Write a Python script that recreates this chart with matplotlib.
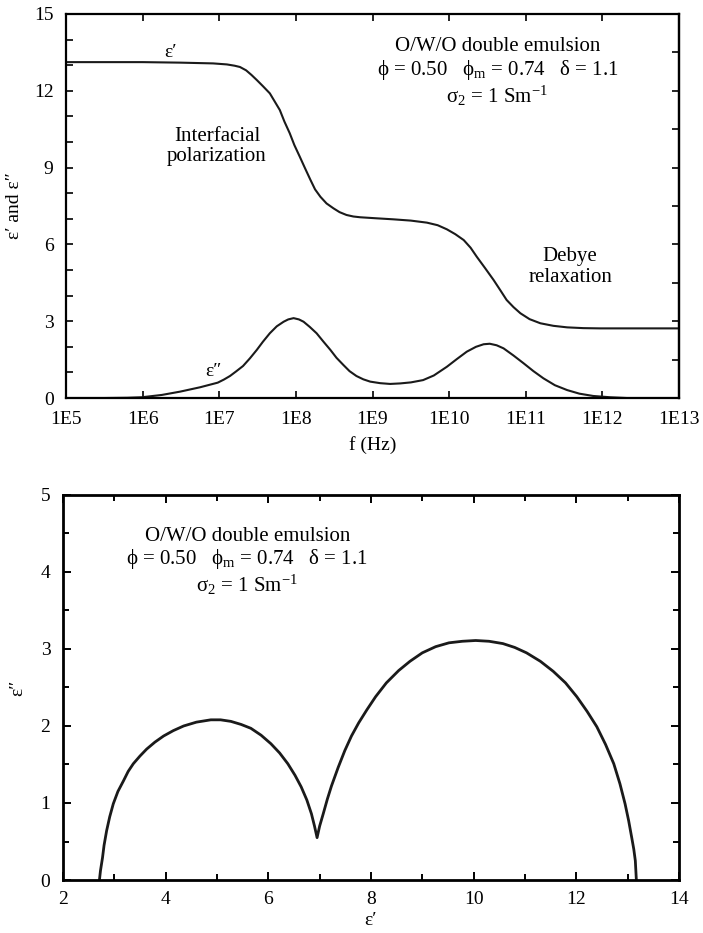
import numpy as np
import matplotlib
matplotlib.use("Agg")
import matplotlib.pyplot as plt
from matplotlib.ticker import MultipleLocator

plt.rcParams['font.family'] = ['Liberation Serif', 'DejaVu Serif']
plt.rcParams['mathtext.fontset'] = 'custom'
plt.rcParams['mathtext.rm'] = 'Liberation Serif'
plt.rcParams['mathtext.it'] = 'Liberation Serif:italic'

# top panel: eps' and eps'' vs log10(f)
logf_eps1 = [5.0, 6.0, 6.49, 6.92, 7.1, 7.2, 7.27, 7.35, 7.42, 7.49, 7.57, 7.66, 7.72,
             7.79, 7.85, 7.92, 7.98, 8.05, 8.12, 8.19, 8.25, 8.32, 8.40, 8.49, 8.57,
             8.66, 8.75, 8.84, 9.05, 9.27, 9.5, 9.71, 9.85, 9.97, 10.08, 10.19, 10.28,
             10.36, 10.47, 10.58, 10.67, 10.75, 10.84, 10.93, 11.05, 11.19, 11.36,
             11.54, 11.75, 11.97, 12.5, 13.0]
eps1 = [13.12, 13.12, 13.10, 13.07, 13.03, 12.98, 12.93, 12.80, 12.62, 12.42, 12.18,
        11.90, 11.60, 11.25, 10.80, 10.34, 9.88, 9.43, 8.97, 8.52, 8.15, 7.86, 7.60,
        7.41, 7.26, 7.15, 7.09, 7.06, 7.02, 6.98, 6.93, 6.85, 6.75, 6.59, 6.40, 6.17,
        5.87, 5.52, 5.07, 4.61, 4.20, 3.83, 3.55, 3.31, 3.08, 2.92, 2.82, 2.76, 2.73,
        2.72, 2.72, 2.72]

logf_eps2 = [5.0, 5.5, 5.8, 5.99, 6.25, 6.49, 6.75, 6.98, 7.06, 7.14, 7.22, 7.31, 7.40,
             7.49, 7.57, 7.66, 7.75, 7.84, 7.90, 7.97, 8.04, 8.10, 8.18, 8.27, 8.36,
             8.45, 8.53, 8.62, 8.70, 8.79, 8.88, 8.97, 9.10, 9.23, 9.36, 9.50, 9.66,
             9.80, 9.97, 10.10, 10.23, 10.35, 10.45, 10.53, 10.62, 10.71, 10.84, 10.97,
             11.10, 11.23, 11.38, 11.54, 11.70, 11.88, 12.10, 12.32, 13.0]
eps2 = [0.0, 0.0, 0.01, 0.03, 0.12, 0.25, 0.42, 0.60, 0.72, 0.86, 1.04, 1.25, 1.55,
        1.88, 2.20, 2.53, 2.80, 2.98, 3.07, 3.12, 3.07, 2.98, 2.78, 2.53, 2.20,
        1.88, 1.57, 1.29, 1.05, 0.86, 0.73, 0.64, 0.58, 0.55, 0.57, 0.61, 0.70,
        0.88, 1.22, 1.52, 1.81, 2.00, 2.10, 2.12, 2.06, 1.94, 1.66, 1.36,
        1.05, 0.77, 0.50, 0.31, 0.17, 0.08, 0.03, 0.0, 0.0]

freq_ticks = [5, 6, 7, 8, 9, 10, 11, 12, 13]
freq_labels = ['1E5', '1E6', '1E7', '1E8', '1E9', '1E10', '1E11', '1E12', '1E13']

# bottom panel: Cole-Cole plot
cc_eps1 = [2.71, 2.73, 2.77, 2.80, 2.85, 2.91, 2.98, 3.07, 3.18, 3.27, 3.37, 3.50, 3.63,
           3.79, 3.96, 4.15, 4.35, 4.60, 4.88, 5.07, 5.27, 5.47, 5.66, 5.86, 6.05, 6.22,
           6.38, 6.52, 6.64, 6.75, 6.84, 6.90, 6.95, 7.00, 7.07, 7.15, 7.23, 7.36, 7.49,
           7.62, 7.76, 7.92, 8.09, 8.30, 8.54, 8.76, 9.00, 9.26, 9.52, 9.78, 10.04,
           10.30, 10.57, 10.80, 11.03, 11.30, 11.55, 11.79, 12.01, 12.21, 12.40, 12.57,
           12.73, 12.85, 12.95, 13.02, 13.08, 13.12, 13.15, 13.17]
cc_eps2 = [0.0, 0.12, 0.29, 0.45, 0.64, 0.82, 0.99, 1.15, 1.29, 1.41, 1.51, 1.61, 1.70,
           1.79, 1.87, 1.94, 2.00, 2.05, 2.08, 2.08, 2.06, 2.02, 1.97, 1.88, 1.77, 1.65,
           1.51, 1.36, 1.21, 1.04, 0.86, 0.70, 0.55, 0.70, 0.86, 1.05, 1.22, 1.46, 1.68,
           1.87, 2.04, 2.21, 2.38, 2.56, 2.72, 2.84, 2.95, 3.03, 3.08, 3.10, 3.11,
           3.10, 3.07, 3.02, 2.95, 2.84, 2.71, 2.56, 2.38, 2.19, 1.99, 1.76,
           1.51, 1.25, 0.99, 0.77, 0.55, 0.40, 0.25, 0.0]

info = 'O/W/O double emulsion\nϕ = 0.50   ϕ$_\\mathrm{m}$ = 0.74   δ = 1.1\nσ$_2$ = 1 Sm$^{-1}$'

fs = 14
fs_txt = 15
ink = '#1a1a1a'
fig = plt.figure(figsize=(7.03, 9.33), dpi=100)

# ---- top panel
ax1 = fig.add_axes([0.0939, 0.5734, 0.872, 0.4116])
ax1.plot(10.0 ** np.array(logf_eps1), eps1, color=ink, lw=1.5)
ax1.plot(10.0 ** np.array(logf_eps2), eps2, color=ink, lw=1.5)
ax1.set_xscale('log')
ax1.set_xlim(1e5, 1e13)
ax1.set_ylim(0, 15)
ax1.set_xticks([10.0 ** k for k in freq_ticks])
ax1.set_xticklabels(freq_labels)
ax1.xaxis.set_minor_locator(plt.NullLocator())
ax1.yaxis.set_major_locator(MultipleLocator(3))
ax1.yaxis.set_minor_locator(MultipleLocator(1))
ax1.tick_params(axis='x', which='major', direction='in', top=True, length=5, width=1.2,
                labelsize=fs, pad=9)
ax1.tick_params(axis='y', which='both', direction='in', right=False, length=5, width=1.2,
                labelsize=fs, pad=9)
sec = ax1.secondary_yaxis('right')
sec.set_yticks(np.arange(1.5, 15, 1.5))
sec.tick_params(direction='in', length=5, width=1.2, labelright=False)
for s in ax1.spines.values():
    s.set_linewidth(1.6)
sec.spines['right'].set_linewidth(1.6)
ax1.set_xlabel('f (Hz)', fontsize=fs, labelpad=6)
ax1.set_ylabel('ε′ and ε″', fontsize=fs, labelpad=8)

ax1.text(10 ** 6.36, 13.5, 'ε′', fontsize=fs, ha='center', va='center')
ax1.text(10 ** 6.92, 1.02, 'ε″', fontsize=fs, ha='center', va='center')
ax1.text(10 ** 6.97, 9.82, 'Interfacial\npolarization', fontsize=fs_txt, ha='center',
         va='center', linespacing=1.1)
ax1.text(10 ** 11.58, 5.12, 'Debye\nrelaxation', fontsize=fs_txt, ha='center',
         va='center', linespacing=1.1)
ax1.text(10 ** 10.63, 12.7, info, fontsize=fs_txt, ha='center', va='center',
         linespacing=1.1)

# ---- bottom panel
ax2 = fig.add_axes([0.0896, 0.0568, 0.8762, 0.4127])
ax2.plot(cc_eps1, cc_eps2, color=ink, lw=2.0)
ax2.set_xlim(2, 14)
ax2.set_ylim(0, 5)
ax2.xaxis.set_major_locator(MultipleLocator(2))
ax2.xaxis.set_minor_locator(MultipleLocator(1))
ax2.yaxis.set_major_locator(MultipleLocator(1))
ax2.yaxis.set_minor_locator(MultipleLocator(0.5))
ax2.tick_params(which='major', direction='in', top=True, right=True, length=6, width=1.4,
                labelsize=fs, pad=8)
ax2.tick_params(which='minor', direction='in', top=True, right=True, length=4, width=1.4)
ax2.tick_params(axis='y', which='major', pad=9)
for s in ax2.spines.values():
    s.set_linewidth(2.0)
ax2.set_xlabel('ε′', fontsize=fs, labelpad=3)
ax2.set_ylabel('ε″', fontsize=fs, labelpad=10)
ax2.text(5.59, 4.13, info, fontsize=fs_txt, ha='center', va='center', linespacing=1.1)

fig.savefig('out.png', dpi=100)
